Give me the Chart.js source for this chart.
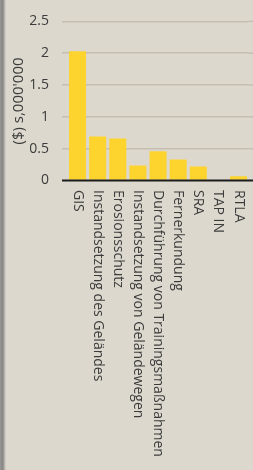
<!DOCTYPE html>
<html>
<head>
<meta charset="utf-8">
<script src="https://cdn.jsdelivr.net/npm/chart.js@4.4.1/dist/chart.umd.min.js"></script>
<style>
  html, body { margin: 0; padding: 0; }
  body {
    width: 253px; height: 470px; overflow: hidden;
    /* dunkler Rand links */
    background: linear-gradient(to right, #a2a2a0 0px, #8a8a88 1px, #8a8a88 3px, #b5b3ad 4.5px, #dcd8ce 6px);
  }
  #wrap { width: 253px; height: 470px; position: relative; }
</style>
</head>
<body>
<div id="wrap"><canvas id="chart"></canvas></div>
<script>
// Daten
const categories = [
  'GIS',
  'Instandsetzung des Geländes',
  'Erosionsschutz',
  'Instandsetzung von Geländewegen',
  'Durchführung von Trainingsmaßnahmen',
  'Fernerkundung',
  'SRA',
  'TAP IN',
  'RTLA'
];
const values = [2.03, 0.69, 0.66, 0.235, 0.46, 0.33, 0.22, 0, 0.068];
const yMax = 2.5;
const yStep = 0.5;
const yTitle = "($) s,000'000";

// Farben
const barColor = '#fdd32e';
const gridColor = '#c6beb0';
const textColor = '#3c3c3c';
const fontFamily = '"Open Sans", "Noto Sans", sans-serif';

// Gitterlinien nach rechts verlängern, Nulllinie und senkrechte Kategorienbeschriftung
const extrasPlugin = {
  id: 'extras',
  afterDatasetsDraw(chart) {
    const { ctx, chartArea, scales: { x, y } } = chart;
    ctx.save();
    ctx.lineWidth = 1.5;
    ctx.strokeStyle = gridColor;
    y.ticks.forEach(t => {
      if (t.value === 0) return;
      const py = y.getPixelForValue(t.value);
      ctx.beginPath();
      ctx.moveTo(chartArea.right, py);
      ctx.lineTo(chart.width, py);
      ctx.stroke();
    });

    const y0 = y.getPixelForValue(0);
    ctx.strokeStyle = '#1c1c1c';
    ctx.lineWidth = 2;
    ctx.beginPath();
    ctx.moveTo(chartArea.left - 5.5, y0);
    ctx.lineTo(chart.width, y0);
    ctx.stroke();

    ctx.fillStyle = textColor;
    ctx.font = '14px ' + fontFamily;
    ctx.textAlign = 'left';
    ctx.textBaseline = 'middle';
    categories.forEach((c, i) => {
      ctx.save();
      ctx.translate(x.getPixelForValue(i), y0 + 9.5);
      ctx.rotate(Math.PI / 2);
      ctx.fillText(c, 0, 0);
      ctx.restore();
    });
    ctx.restore();
  }
};

new Chart(document.getElementById('chart'), {
  type: 'bar',
  data: {
    labels: categories,
    datasets: [{
      data: values,
      backgroundColor: barColor,
      borderWidth: 0,
      categoryPercentage: 1,
      barPercentage: 0.845
    }]
  },
  options: {
    responsive: true,
    maintainAspectRatio: false,
    animation: false,
    events: [],
    layout: {
      padding: { left: 0, right: 4.4, top: 16.5, bottom: 289.5 }
    },
    plugins: {
      legend: { display: false },
      tooltip: { enabled: false }
    },
    scales: {
      x: {
        grid: { display: false, drawTicks: false },
        border: { display: false },
        ticks: { display: false },
        afterFit(scale) { scale.height = 0; }
      },
      y: {
        min: 0,
        max: yMax,
        ticks: {
          stepSize: yStep,
          padding: 13,
          color: textColor,
          font: { family: fontFamily, size: 14 },
          callback: v => String(Number(v.toFixed(1)))
        },
        grid: {
          color: c => (c.tick && c.tick.value === 0) ? 'rgba(0,0,0,0)' : gridColor,
          lineWidth: 1.5,
          drawTicks: true,
          tickLength: 5.5
        },
        border: { display: false },
        title: {
          display: true,
          text: yTitle,
          color: textColor,
          font: { family: fontFamily, size: 15 },
          padding: { top: 10, bottom: 0 }
        },
        afterFit(scale) { scale.width = 67.5; }
      }
    }
  },
  plugins: [extrasPlugin]
});
</script>
</body>
</html>
